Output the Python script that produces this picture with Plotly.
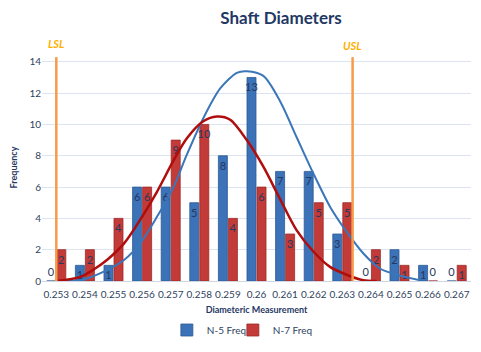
import plotly.graph_objects as go

categories = ["0.253", "0.254", "0.255", "0.256", "0.257", "0.258", "0.259", "0.26",
              "0.261", "0.262", "0.263", "0.264", "0.265", "0.266", "0.267"]
n5_freq = [0, 1, 1, 6, 6, 5, 8, 13, 7, 7, 3, 0, 2, 1, 0]
n7_freq = [2, 2, 4, 6, 9, 10, 4, 6, 3, 5, 5, 2, 1, 0, 1]

# fitted curves (x in category-index units)
n5_curve_x = [0, 0.95, 1.77, 2.37, 2.93, 3.52, 4.10, 4.56, 5.14, 5.73, 6.31, 6.66, 7.24,
              7.82, 8.40, 8.98, 9.57, 10.15, 10.73, 11.31, 11.90, 12.71]
n5_curve_y = [0, 0.1, 0.7, 1.34, 2.4, 4.1, 6.0, 8.05, 10.4, 12.3, 13.3, 13.4, 13.1,
              11.5, 9.2, 6.9, 4.75, 3.15, 1.77, 0.8, 0.4, 0.05]
n7_curve_x = [0, 0.84, 1.36, 1.77, 2.37, 2.93, 3.52, 4.10, 4.56, 5.14, 5.61, 6.08, 6.66,
              7.24, 7.82, 8.40, 8.98, 9.57, 10.15, 10.73, 11.20]
n7_curve_y = [0, 0.26, 0.8, 1.34, 2.4, 3.9, 5.7, 7.7, 9.1, 10.2, 10.5, 10.3, 9.0,
              7.3, 5.25, 3.25, 1.9, 0.9, 0.4, 0.05, 0]

lsl_x = 0.0
usl_x = 10.36
spec_top = 14.3

idx = list(range(len(categories)))
FONT = "Lato"
label_color = "#26385E"


def positions(vals):
    return ["outside" if v == 0 else "inside" for v in vals]


fig = go.Figure()
fig.add_trace(go.Bar(
    x=idx, y=n5_freq, name="N-5 Freq", legend="legend",
    marker=dict(color="#3B72B8", line=dict(color="#2C5A94", width=0.8)),
    text=[str(v) for v in n5_freq], textposition=positions(n5_freq),
    insidetextanchor="end", textangle=0, constraintext="none",
    textfont=dict(color=label_color, size=11, family=FONT),
))
fig.add_trace(go.Bar(
    x=idx, y=n7_freq, name="N-7 Freq", legend="legend2",
    marker=dict(color="#C23B38", line=dict(color="#9E2A27", width=0.8)),
    text=[str(v) for v in n7_freq], textposition=positions(n7_freq),
    insidetextanchor="end", textangle=0, constraintext="none",
    textfont=dict(color=label_color, size=11, family=FONT),
))
fig.add_trace(go.Scatter(
    x=n5_curve_x, y=n5_curve_y, mode="lines", showlegend=False, hoverinfo="skip",
    line=dict(color="#3A76B9", width=2, shape="spline", smoothing=0.8),
))
fig.add_trace(go.Scatter(
    x=n7_curve_x, y=n7_curve_y, mode="lines", showlegend=False, hoverinfo="skip",
    line=dict(color="#B00D0D", width=2.5, shape="spline", smoothing=0.8),
))

for xv in (lsl_x, usl_x):
    fig.add_shape(type="line", x0=xv, x1=xv, y0=0, y1=spec_top, xref="x", yref="y",
                  line=dict(color="#F79A4A", width=2.5), layer="above")

fig.add_annotation(x=lsl_x, y=1, yref="paper", yanchor="bottom", text="<b><i>LSL</i></b>",
                   showarrow=False, font=dict(color="#FFB000", size=11, family=FONT), yshift=2)
fig.add_annotation(x=usl_x, y=1, yref="paper", yanchor="bottom", text="<b><i>USL</i></b>",
                   showarrow=False, font=dict(color="#FFB000", size=11, family=FONT), yshift=0)

legend_common = dict(orientation="h", xanchor="left", yref="container",
                     y=1 - 330 / 352, yanchor="middle", bgcolor="rgba(0,0,0,0)",
                     font=dict(size=10, color="#2F3F5E", family=FONT), itemwidth=30)

fig.update_layout(
    width=481, height=352,
    margin=dict(l=42, r=10, t=54, b=71, autoexpand=False),
    paper_bgcolor="white", plot_bgcolor="white",
    font=dict(family=FONT, color="#2F3F5E"),
    title=dict(text="<b>Shaft Diameters</b>", x=281 / 481, xanchor="center", y=1 - 18 / 352,
               yanchor="middle", font=dict(size=17, color="#1F3864", family=FONT)),
    barmode="group", bargap=0.3, bargroupgap=0.1,
    showlegend=True,
    legend=dict(x=140 / 481, **legend_common),
    legend2=dict(x=214 / 481, **legend_common),
    xaxis=dict(range=[-0.5, 14.5], tickmode="array", tickvals=idx, ticktext=categories,
               showgrid=False, zeroline=False, showline=False, ticks="",
               ticklabelstandoff=6,
               tickfont=dict(size=10, color="#2F3F5E", family=FONT),
               title=dict(text="<b>Diameteric Measurement</b>", standoff=10,
                          font=dict(size=9, color="#1F3864", family=FONT))),
    yaxis=dict(range=[0, 14.5], dtick=2, tick0=0, showgrid=True, gridcolor="#DCE4F2",
               gridwidth=1, zeroline=True, zerolinecolor="#D0D7E2", zerolinewidth=1,
               tickfont=dict(size=10, color="#2F3F5E", family=FONT), ticks="",
               title=dict(text="<b>Frequency</b>", standoff=10,
                          font=dict(size=9, color="#1F3864", family=FONT))),
)

fig.write_html("out.html")
